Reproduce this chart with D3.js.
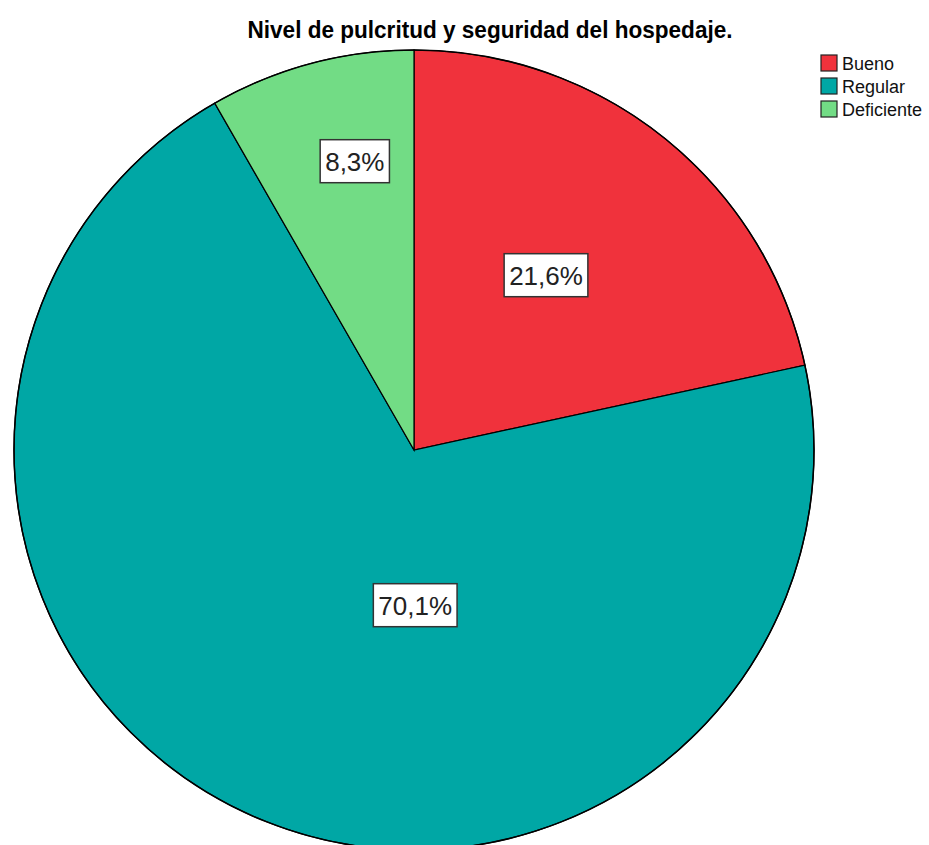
<html lang="es">
<head>
    <meta charset="utf-8">
    <title>Nivel de pulcritud y seguridad del hospedaje</title>
    <script src="https://cdn.jsdelivr.net/npm/d3@7/dist/d3.min.js"></script>
    <style type="text/css">
        body {
            margin: 0;
            background: #fff;
            font-family: "Liberation Sans", Arial, sans-serif;
        }
        .slice {
            stroke: #000;
            stroke-width: 1.2px;
        }
        .label-box {
            fill: #fff;
            stroke: #333;
            stroke-width: 1.5px;
        }
    </style>
</head>
<body>
<div id="chart"></div>
<script type="text/javascript">

    // data
    var categories = ["Bueno", "Regular", "Deficiente"];
    var percents = [21.6, 70.1, 8.3];
    var percentLabels = ["21,6%", "70,1%", "8,3%"];
    var colors = ["#f0323c", "#00a7a5", "#72dc85"];

    var width = 929,
        height = 845,
        cx = 414,
        cy = 450,
        radius = 400;

    // where SPSS put the boxes, in units of the radius from the centre
    var labelSpot = {
        "Bueno": [0.330, -0.437],
        "Regular": [0.003, 0.388],
        "Deficiente": [-0.148, -0.722]
    };

    var svg = d3.select("#chart").append("svg")
        .attr("width", width)
        .attr("height", height);

    var color = d3.scaleOrdinal()
        .domain(categories)
        .range(colors);

    var unitX = d3.scaleLinear().domain([-1, 1]).range([cx - radius, cx + radius]);
    var unitY = d3.scaleLinear().domain([-1, 1]).range([cy - radius, cy + radius]);

    var table = categories.map(function (c, i) {
        return {cat: c, value: percents[i], label: percentLabels[i]};
    });

    var pie = d3.pie()
        .sort(null)
        .value(function (d) { return d.value; });

    var arc = d3.arc()
        .innerRadius(0)
        .outerRadius(radius);

    var g = svg.append("g")
        .attr("transform", "translate(" + cx + "," + cy + ")");

    g.selectAll("path")
        .data(pie(table))
        .enter().append("path")
        .attr("class", "slice")
        .attr("d", arc)
        .attr("fill", function (d) { return color(d.data.cat); });

    // outer rim a bit heavier
    g.append("circle")
        .attr("r", radius)
        .attr("fill", "none")
        .attr("stroke", "#000")
        .attr("stroke-width", 1.5);

    var labels = svg.selectAll(".pct")
        .data(table)
        .enter().append("g")
        .attr("class", "pct")
        .attr("transform", function (d) {
            var p = labelSpot[d.cat];
            return "translate(" + unitX(p[0]) + "," + unitY(p[1]) + ")";
        });

    labels.append("text")
        .attr("text-anchor", "middle")
        .attr("dy", "0.36em")
        .style("font-size", "26px")
        .style("fill", "#222")
        .text(function (d) { return d.label; });

    labels.each(function () {
        var t = d3.select(this).select("text");
        var b = t.node().getBBox();
        d3.select(this).insert("rect", "text")
            .attr("class", "label-box")
            .attr("x", b.x - 5)
            .attr("y", -21.5)
            .attr("width", b.width + 10)
            .attr("height", 43);
    });

    // title
    svg.append("text")
        .attr("x", 490)
        .attr("y", 38)
        .attr("text-anchor", "middle")
        .attr("textLength", 485)
        .attr("lengthAdjust", "spacingAndGlyphs")
        .style("font-size", "24.5px")
        .style("font-weight", "bold")
        .style("fill", "#000")
        .text("Nivel de pulcritud y seguridad del hospedaje.");

    // legend
    var legend = svg.append("g")
        .attr("transform", "translate(821,55)");

    var item = legend.selectAll("g")
        .data(categories)
        .enter().append("g")
        .attr("transform", function (d, i) { return "translate(0," + i * 23 + ")"; });

    item.append("rect")
        .attr("width", 16)
        .attr("height", 16)
        .attr("fill", function (d) { return color(d); })
        .attr("stroke", "#222")
        .attr("stroke-width", 1.2);

    item.append("text")
        .attr("x", 21)
        .attr("y", 14.5)
        .style("font-size", "18px")
        .style("fill", "#111")
        .text(function (d) { return d; });

</script>
</body>
</html>
